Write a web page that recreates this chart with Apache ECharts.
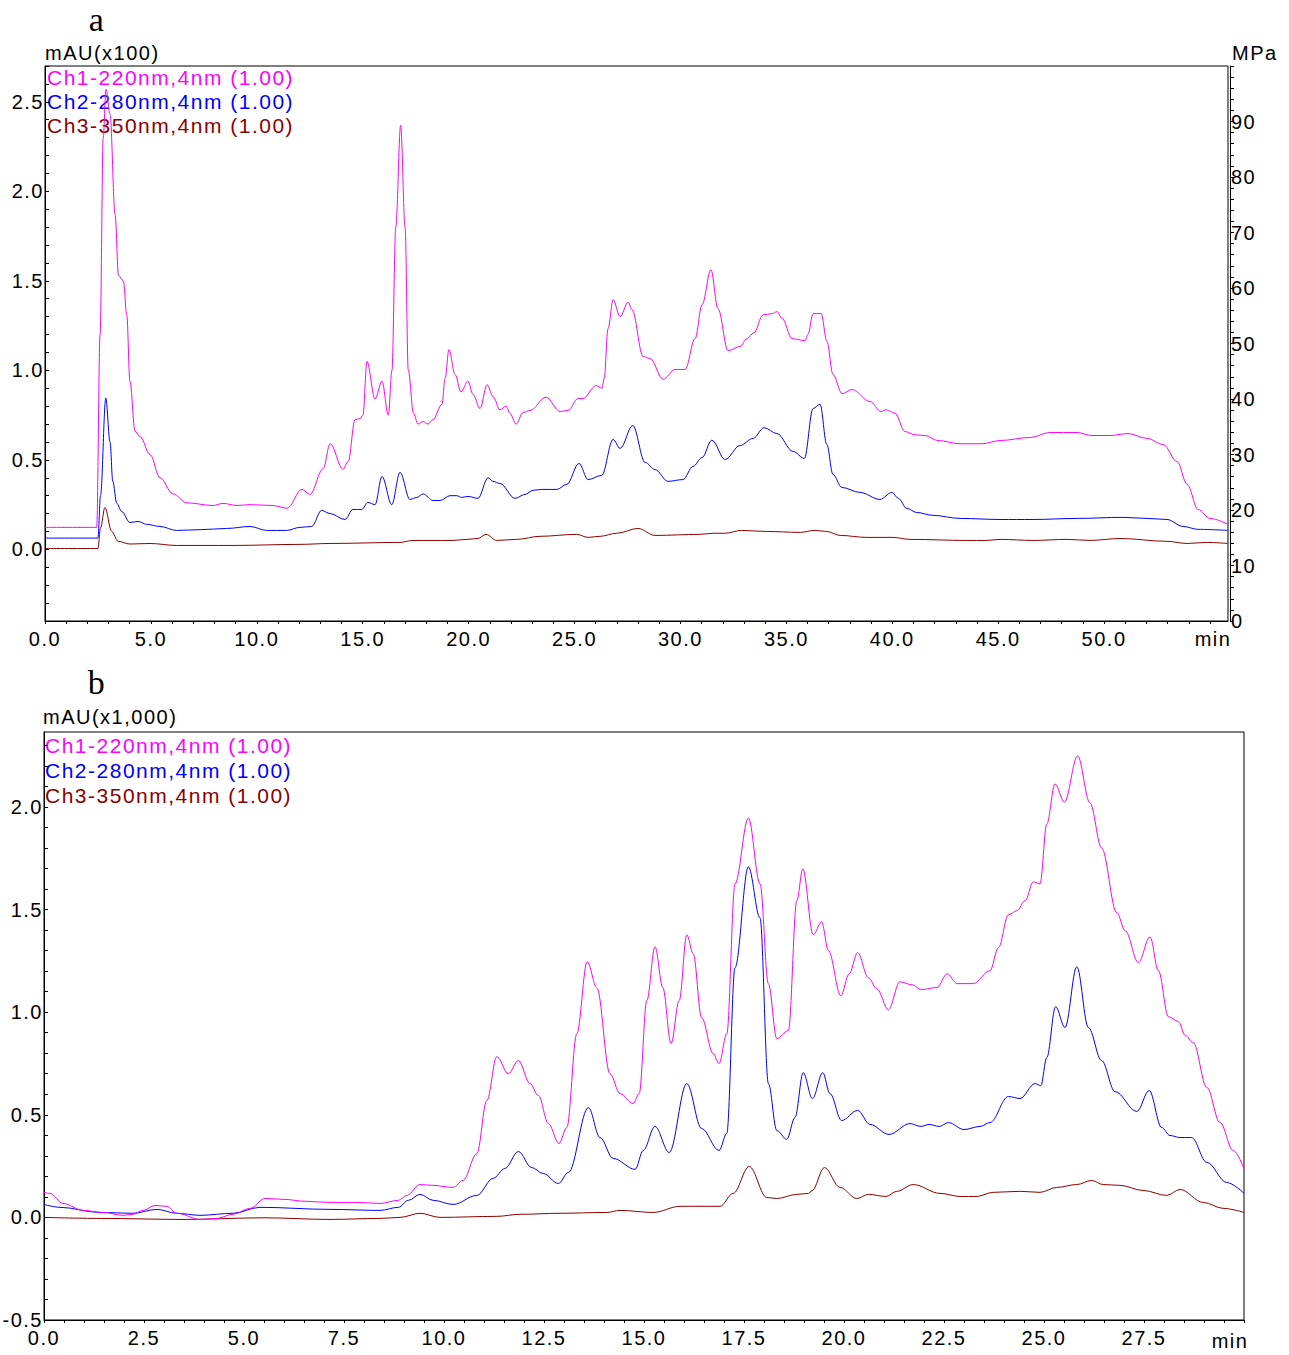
<!DOCTYPE html>
<html>
<head>
<meta charset="utf-8">
<script src="https://cdn.jsdelivr.net/npm/echarts@6.0.0/dist/echarts.min.js"></script>
<style>
  html, body { margin: 0; padding: 0; background: #fff; }
  #chart { width: 1289px; height: 1355px; }
  #chart text { letter-spacing: 1.5px; }
</style>
</head>
<body>
<div id="chart"></div>
<script>
// chromatogram a: [time (min), absorbance (mAU x100)]
const aCh1 = [
  [0, 0.123], [2.44, 0.123], [2.6, 1.2], [2.75, 2.3], [2.88, 2.57], [3.07, 2.43], [3.31, 1.87], [3.47, 1.53],
  [3.7, 1.5], [3.86, 1.31], [4.01, 0.94], [4.25, 0.66], [4.49, 0.63], [4.96, 0.53], [5.43, 0.4], [6.04, 0.31],
  [6.7, 0.26], [7.93, 0.245], [8.4, 0.257], [9.07, 0.245], [9.68, 0.25], [10.76, 0.245], [11.43, 0.23],
  [12.13, 0.335], [12.51, 0.307], [13.13, 0.45], [13.46, 0.59], [14.07, 0.447], [14.31, 0.49], [14.64, 0.725],
  [14.87, 0.73], [15.01, 0.75], [15.2, 1.05], [15.58, 0.84], [15.91, 0.94], [16.21, 0.75], [16.38, 1.0],
  [16.56, 1.8], [16.79, 2.37], [17.0, 1.8], [17.15, 1.0], [17.4, 0.76], [17.61, 0.7], [17.85, 0.714],
  [18.08, 0.7], [18.32, 0.725], [18.74, 0.81], [18.89, 0.955], [19.07, 1.116], [19.36, 0.977], [19.64, 0.88],
  [19.97, 0.94], [20.21, 0.865], [20.54, 0.787], [20.87, 0.92], [21.15, 0.854], [21.48, 0.78], [21.77, 0.8],
  [21.95, 0.76], [22.24, 0.7], [22.57, 0.765], [22.9, 0.776], [23.65, 0.85], [24.32, 0.77], [24.69, 0.776],
  [25.17, 0.843], [25.4, 0.843], [26.02, 0.915], [26.3, 0.9], [26.4, 0.955], [26.58, 1.233], [26.82, 1.395],
  [27.15, 1.3], [27.53, 1.38], [27.71, 1.34], [28.24, 1.077], [28.57, 1.066], [29.18, 0.95], [29.75, 1.005],
  [30.22, 1.005], [30.69, 1.177], [31.02, 1.367], [31.44, 1.562], [31.77, 1.345], [32.25, 1.11], [32.81, 1.133],
  [33.14, 1.177], [33.47, 1.21], [33.9, 1.31], [34.33, 1.317], [34.56, 1.328], [34.8, 1.29], [35.27, 1.177],
  [35.88, 1.166], [36.02, 1.2], [36.26, 1.317], [36.64, 1.317], [36.92, 1.16], [37.2, 0.977], [37.63, 0.87],
  [38.1, 0.893], [38.95, 0.826], [39.47, 0.77], [39.71, 0.78], [40.13, 0.76], [40.6, 0.658], [41.08, 0.64],
  [41.55, 0.636], [42.16, 0.608], [43.2, 0.59], [44.24, 0.59], [45.09, 0.608], [46.51, 0.625], [47.45, 0.653],
  [48.73, 0.653], [49.43, 0.636], [50.28, 0.636], [51.13, 0.647], [52.03, 0.62], [52.79, 0.586], [53.45, 0.49],
  [53.92, 0.363], [54.44, 0.223], [55.0, 0.173], [55.85, 0.14]
];
const aCh2 = [
  [0, 0.063], [2.5, 0.063], [2.62, 0.3], [2.87, 0.845], [3.07, 0.6], [3.2, 0.38], [3.39, 0.257], [3.62, 0.212],
  [4.01, 0.15], [4.39, 0.156], [4.8, 0.14], [5.43, 0.128], [6.22, 0.106], [7.32, 0.11], [8.58, 0.117],
  [9.68, 0.128], [10.47, 0.106], [11.41, 0.106], [12.04, 0.123], [12.59, 0.128], [13.06, 0.218], [13.46, 0.2],
  [14.16, 0.167], [14.54, 0.223], [14.95, 0.223], [15.25, 0.262], [15.58, 0.25], [15.91, 0.407], [16.37, 0.25],
  [16.76, 0.43], [17.23, 0.279], [17.55, 0.29], [17.85, 0.31], [18.32, 0.273], [18.65, 0.273], [19.12, 0.3],
  [19.44, 0.3], [19.67, 0.29], [19.97, 0.296], [20.44, 0.285], [20.92, 0.4], [21.15, 0.38], [21.48, 0.368],
  [22.19, 0.285], [22.66, 0.307], [23.04, 0.33], [23.45, 0.335], [24.16, 0.335], [24.63, 0.363], [25.21, 0.48],
  [25.64, 0.39], [26.28, 0.413], [26.82, 0.614], [27.15, 0.564], [27.75, 0.692], [28.33, 0.486], [28.8, 0.446],
  [29.41, 0.38], [30.12, 0.39], [30.59, 0.463], [31.02, 0.513], [31.48, 0.61], [32.11, 0.502], [32.81, 0.58],
  [33.43, 0.62], [33.95, 0.68], [34.55, 0.647], [35.32, 0.547], [35.85, 0.508], [36.26, 0.787], [36.59, 0.81],
  [36.91, 0.586], [37.2, 0.419], [37.62, 0.346], [38.48, 0.318], [39.42, 0.279], [39.98, 0.318], [40.29, 0.285],
  [40.68, 0.229], [41.16, 0.206], [41.93, 0.19], [43.2, 0.173], [45.09, 0.167], [46.65, 0.167], [48.73, 0.173],
  [50.9, 0.179], [52.03, 0.173], [52.97, 0.167], [53.73, 0.128], [54.44, 0.112], [55.85, 0.106]
];
const aCh3 = [
  [0, 0.005], [2.5, 0.005], [2.62, 0.12], [2.83, 0.234], [3.15, 0.1], [3.45, 0.045], [4.01, 0.03], [4.96, 0.033],
  [6.22, 0.022], [8.88, 0.022], [12.04, 0.028], [13.46, 0.033], [16.76, 0.039], [17.37, 0.05], [19.26, 0.05],
  [19.92, 0.056], [20.44, 0.061], [20.82, 0.084], [21.33, 0.05], [22.27, 0.056], [23.37, 0.073], [25.1, 0.084],
  [25.64, 0.067], [26.2, 0.073], [26.99, 0.09], [28.0, 0.117], [28.8, 0.078], [30.93, 0.084], [31.54, 0.09],
  [32.11, 0.09], [32.89, 0.106], [34.07, 0.1], [35.65, 0.095], [36.35, 0.106], [36.91, 0.1], [37.54, 0.078],
  [38.8, 0.067], [40.04, 0.067], [40.84, 0.056], [43.52, 0.05], [44.46, 0.05], [45.09, 0.056], [46.65, 0.05],
  [48.25, 0.056], [49.34, 0.05], [50.76, 0.061], [52.97, 0.045], [53.92, 0.033], [54.86, 0.039], [55.85, 0.033]
];

// chromatogram b: [time (min), absorbance (mAU x1,000)]
const bCh1 = [
  [0, 0.122], [0.15, 0.117], [0.475, 0.068], [0.975, 0.034], [1.475, 0.024], [1.975, 0.01], [2.225, 0.015],
  [2.475, 0.034], [2.775, 0.058], [3.07, 0.054], [3.32, 0.02], [3.9, -0.01], [4.32, -0.005], [4.725, 0.015],
  [5.15, 0.044], [5.525, 0.092], [5.975, 0.088], [6.57, 0.078], [7.15, 0.073], [7.8, 0.073], [8.4, 0.068],
  [8.86, 0.083], [9.07, 0.107], [9.4, 0.16], [9.725, 0.156], [10.225, 0.146], [10.475, 0.18], [10.82, 0.31],
  [11.07, 0.569], [11.32, 0.783], [11.61, 0.7], [11.86, 0.764], [12.15, 0.652], [12.36, 0.594], [12.61, 0.457],
  [12.875, 0.36], [13.07, 0.438], [13.32, 0.895], [13.58, 1.246], [13.82, 1.12], [14.15, 0.7], [14.4, 0.603],
  [14.73, 0.555], [14.88, 0.603], [15.07, 1.056], [15.275, 1.319], [15.47, 1.12], [15.675, 0.847], [15.88, 1.056],
  [16.07, 1.377], [16.23, 1.285], [16.44, 0.973], [16.73, 0.798], [16.875, 0.749], [17.07, 0.895], [17.275, 1.625],
  [17.61, 1.946], [17.9, 1.625], [18.11, 1.139], [18.32, 0.871], [18.61, 0.91], [18.82, 1.543], [18.97, 1.698],
  [19.23, 1.377], [19.44, 1.44], [19.61, 1.3], [19.92, 1.08], [20.13, 1.187], [20.34, 1.29], [20.61, 1.168],
  [20.82, 1.114], [21.11, 1.012], [21.4, 1.148], [21.69, 1.134], [21.94, 1.11], [22.32, 1.12], [22.58, 1.187],
  [22.83, 1.139], [23.23, 1.139], [23.65, 1.202], [23.86, 1.314], [24.11, 1.474], [24.32, 1.494], [24.53, 1.543],
  [24.73, 1.635], [24.9, 1.625], [25.07, 1.917], [25.275, 2.112], [25.51, 2.024], [25.84, 2.248], [26.15, 2.019],
  [26.44, 1.8], [26.82, 1.484], [27.03, 1.397], [27.36, 1.241], [27.65, 1.367], [27.86, 1.202], [28.11, 0.978],
  [28.36, 0.954], [28.53, 0.886], [28.73, 0.852], [29.07, 0.633], [29.4, 0.462], [29.73, 0.326], [30, 0.238]
];
const bCh2 = [
  [0, 0.063], [0.4, 0.049], [1.4, 0.024], [2.225, 0.02], [2.82, 0.039], [3.32, 0.02], [3.9, 0.01], [4.725, 0.02],
  [5.4, 0.049], [7.15, 0.039], [8.4, 0.034], [8.86, 0.049], [9.11, 0.083], [9.4, 0.112], [9.73, 0.083],
  [10.23, 0.063], [10.82, 0.107], [11.23, 0.19], [11.52, 0.238], [11.86, 0.321], [12.19, 0.243], [12.48, 0.214],
  [12.86, 0.165], [13.11, 0.219], [13.61, 0.535], [13.9, 0.389], [14.23, 0.287], [14.78, 0.234], [14.98, 0.326],
  [15.275, 0.443], [15.63, 0.316], [16.07, 0.652], [16.44, 0.433], [16.875, 0.326], [17.07, 0.409], [17.275, 1.217],
  [17.61, 1.708], [17.9, 1.46], [18.11, 0.652], [18.32, 0.423], [18.57, 0.38], [18.775, 0.487], [18.98, 0.705],
  [19.21, 0.579], [19.47, 0.705], [19.65, 0.603], [19.94, 0.472], [20.34, 0.521], [20.65, 0.453], [21.125, 0.404],
  [21.65, 0.457], [21.92, 0.443], [22.13, 0.453], [22.38, 0.443], [22.61, 0.462], [23.0, 0.428], [23.4, 0.443],
  [23.65, 0.462], [24.11, 0.589], [24.4, 0.579], [24.775, 0.652], [24.92, 0.642], [25.07, 0.779], [25.29, 1.027],
  [25.525, 0.925], [25.82, 1.221], [26.11, 0.925], [26.44, 0.764], [26.775, 0.613], [27.32, 0.516], [27.63, 0.618],
  [27.94, 0.438], [28.15, 0.399], [28.4, 0.389], [28.69, 0.389], [29.07, 0.268], [29.57, 0.17], [30, 0.117]
];
const bCh3 = [
  [0, 0.0], [1.4, -0.005], [3.5, -0.01], [5.5, -0.002], [7.15, -0.01], [8.4, -0.005], [8.9, 0.0], [9.4, 0.02],
  [9.9, 0.0], [11.32, 0.005], [11.9, 0.015], [12.9, 0.02], [14.07, 0.024], [14.4, 0.034], [15.23, 0.024],
  [15.9, 0.054], [16.9, 0.054], [17.23, 0.117], [17.63, 0.248], [18.07, 0.097], [18.32, 0.092], [18.82, 0.112],
  [19.11, 0.117], [19.2, 0.13], [19.51, 0.243], [19.9, 0.146], [20.32, 0.092], [20.61, 0.112], [21.05, 0.102],
  [21.32, 0.127], [21.73, 0.16], [22.4, 0.117], [22.9, 0.102], [23.32, 0.102], [23.73, 0.122], [24.4, 0.127],
  [24.9, 0.122], [25.32, 0.146], [25.82, 0.16], [26.19, 0.18], [26.48, 0.16], [26.9, 0.156], [27.48, 0.131],
  [28.07, 0.107], [28.4, 0.136], [28.98, 0.073], [29.48, 0.044], [30, 0.024]
];

const channelNames = ['Ch1-220nm,4nm (1.00)', 'Ch2-280nm,4nm (1.00)', 'Ch3-350nm,4nm (1.00)'];
const channelColors = ['#ff00ff', '#0000ff', '#8b0000'];

// tick labels
const xLabelsA = [0, 5, 10, 15, 20, 25, 30, 35, 40, 45, 50];
const yLabelsA = [0, 0.5, 1.0, 1.5, 2.0, 2.5];
const mpaLabels = [0, 10, 20, 30, 40, 50, 60, 70, 80, 90];
const xLabelsB = [0, 2.5, 5, 7.5, 10, 12.5, 15, 17.5, 20, 22.5, 25, 27.5];
const yLabelsB = [-0.5, 0, 0.5, 1.0, 1.5, 2.0];

function steps(from, to, step) {
  const out = [];
  for (let v = from; v <= to + 1e-9; v += step) out.push(Math.round(v * 100) / 100);
  return out;
}

const font = 'Liberation Sans';
const labelStyle = { color: '#000', fontFamily: font, fontSize: 20 };

function xAxisFor(grid, max, labels, tickStep) {
  return {
    type: 'value', gridIndex: grid, min: 0, max: max,
    axisLine: { onZero: false, lineStyle: { color: '#000', width: 1 } },
    axisTick: { inside: false, length: 3, lineStyle: { color: '#000' }, customValues: steps(0, max, tickStep) },
    axisLabel: Object.assign({ margin: 8, customValues: labels, formatter: v => v.toFixed(1) }, labelStyle),
    splitLine: { show: false }
  };
}

function yAxisFor(grid, min, max, labels) {
  return {
    type: 'value', gridIndex: grid, min: min, max: max,
    axisLine: { show: true, onZero: false, lineStyle: { color: '#000', width: 1 } },
    axisTick: { inside: true, length: 4, lineStyle: { color: '#000' }, customValues: steps(min, max, 0.1) },
    axisLabel: Object.assign({ margin: 1, customValues: labels, formatter: v => v.toFixed(1) }, labelStyle),
    splitLine: { show: false }
  };
}

function lineSeries(data, idx, xi, yi) {
  return {
    type: 'line', data: data, xAxisIndex: xi, yAxisIndex: yi,
    showSymbol: false, smooth: 0.35, smoothMonotone: 'x',
    lineStyle: { color: channelColors[idx], width: 1 },
    itemStyle: { color: channelColors[idx] },
    silent: true, z: 3 - idx
  };
}

function txt(text, x, y, opts) {
  return {
    type: 'text', x: x, y: y, silent: true,
    style: Object.assign({ text: text, fill: '#000', font: '20px "Liberation Sans"', textAlign: 'left', textVerticalAlign: 'middle' }, opts || {})
  };
}

const chart = echarts.init(document.getElementById('chart'), null, { renderer: 'svg' });

const option = {
  animation: false,
  backgroundColor: '#fff',
  grid: [
    { left: 45, top: 66, width: 1183, height: 555, show: true, borderColor: '#000', borderWidth: 1 },
    { left: 44, top: 732, width: 1200, height: 588, show: true, borderColor: '#000', borderWidth: 1 }
  ],
  xAxis: [
    xAxisFor(0, 55.85, xLabelsA, 1),
    xAxisFor(1, 30, xLabelsB, 0.5)
  ],
  yAxis: [
    yAxisFor(0, -0.4, 2.7, yLabelsA),
    {
      type: 'value', gridIndex: 0, position: 'right', offset: 2, min: 0, max: 100,
      axisLine: { show: true, onZero: false, lineStyle: { color: '#000', width: 1 } },
      axisTick: { inside: false, length: 4, lineStyle: { color: '#000' }, customValues: steps(0, 100, 2) },
      axisLabel: Object.assign({ margin: 1, customValues: mpaLabels }, labelStyle),
      splitLine: { show: false }
    },
    yAxisFor(1, -0.5, 2.365, yLabelsB)
  ],
  series: [
    lineSeries(aCh1, 0, 0, 0), lineSeries(aCh2, 1, 0, 0), lineSeries(aCh3, 2, 0, 0),
    lineSeries(bCh1, 0, 1, 2), lineSeries(bCh2, 1, 1, 2), lineSeries(bCh3, 2, 1, 2)
  ],
  graphic: [
    txt('a', 97, 19, { font: '34px "Liberation Serif"', textAlign: 'center' }),
    txt('b', 97, 682, { font: '34px "Liberation Serif"', textAlign: 'center' }),
    txt('mAU(x100)', 45, 53),
    txt('MPa', 1232, 53),
    txt('min', 1213, 639, { textAlign: 'center' }),
    txt('mAU(x1,000)', 43, 717),
    txt('min', 1230, 1341, { textAlign: 'center' }),
    txt(channelNames[0], 47, 77, { fill: channelColors[0], font: '21px "Liberation Sans"' }),
    txt(channelNames[1], 47, 101, { fill: channelColors[1], font: '21px "Liberation Sans"' }),
    txt(channelNames[2], 47, 125, { fill: channelColors[2], font: '21px "Liberation Sans"' }),
    txt(channelNames[0], 45, 745, { fill: channelColors[0], font: '21px "Liberation Sans"' }),
    txt(channelNames[1], 45, 770, { fill: channelColors[1], font: '21px "Liberation Sans"' }),
    txt(channelNames[2], 45, 795, { fill: channelColors[2], font: '21px "Liberation Sans"' })
  ]
};

chart.setOption(option);
</script>
</body>
</html>
